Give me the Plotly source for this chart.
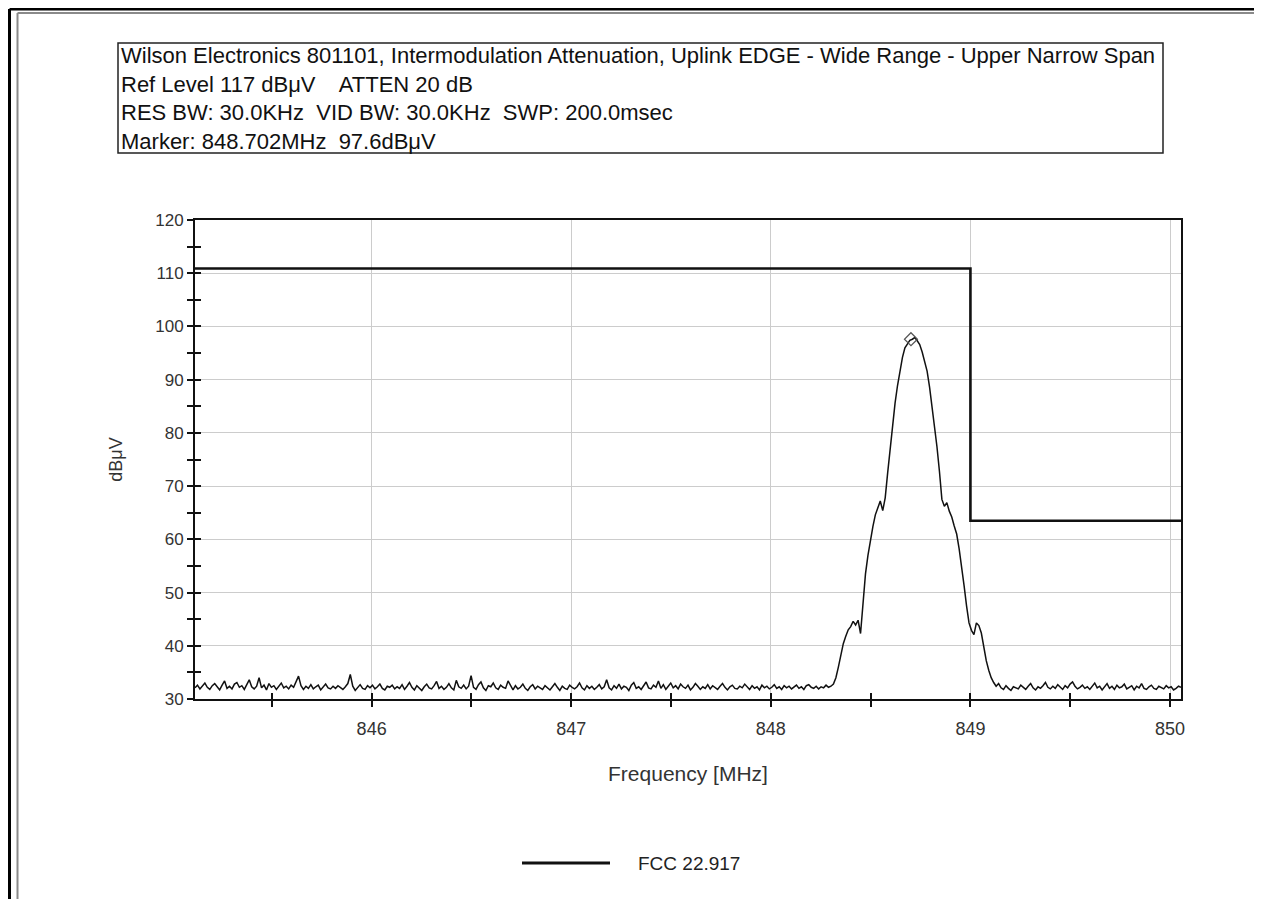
import numpy as np
import plotly.graph_objects as go

# ---------------- data ----------------
freq_start = 845.115   # MHz, left edge of sweep
freq_stop = 850.055    # MHz, right edge of sweep

noise_low = [
    32.1, 32.6, 31.9, 32.4, 33.0, 32.2, 31.8, 32.5, 32.9, 32.3, 31.7, 32.6, 33.4, 32.0, 32.4, 31.9, 32.8, 33.1, 32.2, 32.5,
    31.8, 32.7, 33.6, 32.3, 31.9, 32.4, 34.0, 32.1, 32.6, 31.7, 32.9, 32.2, 32.5, 31.8, 32.3, 33.0, 32.1, 32.4, 31.9, 32.6,
    32.2, 33.2, 34.3, 32.5, 31.8, 32.4, 32.0, 32.7, 31.9, 32.3, 32.6, 31.7, 32.2, 32.8, 32.1, 31.9, 32.4, 32.0, 32.5, 32.2,
    31.8, 32.3, 32.9, 34.6, 32.4, 31.6, 32.2, 32.7, 32.0, 31.8, 32.5, 32.1, 32.6, 31.9, 32.3, 32.8, 32.0, 31.7, 32.4, 32.2,
    32.6, 31.9, 32.3, 32.0, 32.7, 31.8, 32.4, 33.1, 32.2, 31.7, 32.5, 32.0, 31.6, 32.3, 32.8, 32.1, 31.9, 32.5, 33.3, 32.0,
    32.4, 31.8, 32.2, 32.9, 32.1, 31.7, 33.5, 32.3, 32.0, 32.6, 31.9, 32.4, 34.4, 32.2, 31.8, 32.7, 33.2, 32.1, 31.6, 32.5,
    32.3, 33.0, 32.1, 31.8, 32.6, 32.2, 32.0, 33.4, 32.4, 31.7, 32.5, 31.9, 32.2, 32.8, 32.0, 31.6, 32.3, 32.7, 31.9, 32.4,
    32.1, 31.8, 32.5, 32.0, 31.7, 32.3, 32.9, 32.2, 31.6, 32.4, 32.0, 31.8, 32.6, 32.2, 31.9, 32.3, 33.0, 32.1, 31.7, 32.5,
    32.0, 32.4, 31.8, 32.2, 32.7, 31.9, 32.3, 33.6, 32.1, 31.7, 32.5, 32.0, 32.8, 31.9, 32.4, 32.2, 31.6, 32.6, 33.1, 32.0,
    32.3, 31.8, 32.5, 33.2, 32.1, 31.9, 32.6, 32.2, 33.4, 32.0, 32.7, 31.8, 32.4, 33.0, 32.1, 32.5, 31.9, 32.8, 32.3, 32.0,
    32.6, 31.7, 32.2, 32.9, 32.4, 31.8, 32.3, 32.0, 32.7, 31.9, 32.5, 32.1, 31.8, 32.4, 32.9, 32.2, 31.7, 32.3, 32.6, 32.0,
    31.9, 32.4, 32.1, 32.8, 32.2, 31.8, 32.5, 32.0, 32.3, 31.7, 32.6, 32.1, 32.4, 31.9, 32.2, 32.7, 32.0, 32.3, 31.8, 32.5,
    32.1, 32.4, 31.9, 32.2, 32.6, 32.0, 32.3, 31.8, 32.5, 32.7, 32.2, 32.0, 32.4, 31.9, 32.3, 32.1, 32.6, 32.2, 32.4, 32.8,
]

signal_levels = [
    34.0, 36.0, 38.2, 40.4, 41.8, 43.0, 43.6, 44.6, 43.9, 44.8,
    42.3, 48.5, 53.5, 57.0, 60.1, 62.4, 64.6, 66.0, 67.2, 65.4,
    67.8, 72.5, 77.0, 81.8, 85.6, 88.9, 91.8, 94.2, 96.0, 96.8,
    97.4, 97.6, 97.9, 97.3, 96.6, 95.2, 93.4, 91.6, 88.6, 85.1,
    81.2, 77.4, 72.8, 67.5, 66.2, 66.9, 65.3, 64.2, 62.5, 61.0,
    58.2, 55.0, 51.3, 47.5, 44.3, 42.9, 42.1, 44.3, 43.8, 42.4,
    39.6, 37.2, 35.4, 34.0, 33.1, 32.4, 32.9, 32.1,
]

noise_high = [
    31.8, 32.5, 32.0, 31.6, 32.3, 32.1, 31.9, 32.6, 32.2, 31.8, 32.4, 32.9, 32.1, 31.7, 32.3, 32.0, 32.5, 33.1, 32.2, 31.9,
    32.4, 32.0, 32.7, 32.3, 31.8, 32.5, 32.1, 32.8, 33.2, 32.4, 31.9, 32.2, 32.6, 32.0, 32.3, 31.8, 32.5, 33.0, 32.1, 32.4,
    31.7, 32.3, 32.9, 32.0, 32.4, 31.8, 32.6, 32.1, 32.3, 32.8, 31.9, 32.2, 32.5, 31.7, 32.4, 32.1, 32.9, 32.0, 31.8, 32.3,
    32.6, 32.0, 31.8, 32.4, 32.2, 31.9, 32.5, 32.1, 32.3, 31.7, 32.0, 32.4, 32.2,
]

limit_freqs = [845.115, 849.0, 849.0, 850.055]
limit_levels = [110.9, 110.9, 63.5, 63.5]

marker_freq = [848.702]
marker_level = [97.6]

x_ticks = [846, 847, 848, 849, 850]
y_ticks = [30, 40, 50, 60, 70, 80, 90, 100, 110, 120]

header_lines = [
    "Wilson Electronics 801101, Intermodulation Attenuation, Uplink EDGE - Wide Range - Upper Narrow Span",
    "Ref Level 117 dB\u03bcV    ATTEN 20 dB",
    "RES BW: 30.0KHz  VID BW: 30.0KHz  SWP: 200.0msec",
    "Marker: 848.702MHz  97.6dB\u03bcV",
]
legend_name = "FCC 22.917"

# ---------------- figure ----------------
levels = noise_low + signal_levels + noise_high
freqs = np.linspace(freq_start, freq_stop, len(levels))

OFF = 8                      # page body margin of the html page
W, H = 1262 - OFF, 899 - OFF
ML, MR, MT, MB = 195 - OFF, 81, 220 - OFF, 200
PW, PH = W - ML - MR, H - MT - MB


def px(x):
    """screen x (px) -> paper x"""
    return (x - OFF - ML) / PW


def py(y):
    """screen y (px) -> paper y"""
    return (H - MB - (y - OFF)) / PH


FONT = "Liberation Sans, Arial, sans-serif"

fig = go.Figure()
fig.add_trace(go.Scatter(x=freqs, y=levels, mode="lines",
                         line=dict(color="#111111", width=1.5),
                         showlegend=False, hoverinfo="x+y"))
fig.add_trace(go.Scatter(x=limit_freqs, y=limit_levels, mode="lines",
                         line=dict(color="#111111", width=2.6),
                         name=legend_name, showlegend=False))
fig.add_trace(go.Scatter(x=marker_freq, y=marker_level, mode="markers",
                         marker=dict(symbol="diamond-open", size=10,
                                     color="#555555", line=dict(width=1.2)),
                         showlegend=False))
# invisible trace to carry overlay axes (inner half of crossing ticks)
fig.add_trace(go.Scatter(x=[freq_start], y=[y_ticks[0]], xaxis="x2", yaxis="y2",
                         mode="markers", marker=dict(opacity=0),
                         showlegend=False, hoverinfo="skip"))

xtickfont = dict(family=FONT, size=18, color="#333333")
ytickfont = dict(family=FONT, size=17, color="#333333")
titlefont = dict(family=FONT, size=21, color="#333333")

fig.update_layout(
    width=W, height=H,
    margin=dict(l=ML, r=MR, t=MT, b=MB, autoexpand=False),
    paper_bgcolor="white", plot_bgcolor="white",
    font=dict(family=FONT, color="#222222"),
    showlegend=False,
    xaxis=dict(range=[freq_start, freq_stop], tickvals=x_ticks,
               ticktext=[str(v) for v in x_ticks],
               ticks="outside", ticklen=6, tickwidth=1.5, tickcolor="#111111",
               minor=dict(tick0=845.5, dtick=1, ticks="outside", ticklen=6,
                          tickwidth=1.5, tickcolor="#111111", showgrid=False),
               showgrid=True, gridcolor="#cccccc", gridwidth=1,
               showline=True, linecolor="#111111", linewidth=2, mirror=True,
               zeroline=False, tickfont=xtickfont, ticklabelstandoff=6,
               title=dict(text="Frequency [MHz]", font=titlefont, standoff=29)),
    yaxis=dict(range=[30, 120], tickvals=y_ticks,
               ticks="outside", ticklen=6, tickwidth=1.5, tickcolor="#111111",
               minor=dict(tick0=35, dtick=10, ticks="outside", ticklen=6,
                          tickwidth=1.5, tickcolor="#111111", showgrid=False),
               showgrid=True, gridcolor="#cccccc", gridwidth=1,
               showline=True, linecolor="#111111", linewidth=2, mirror=True,
               zeroline=False, tickfont=ytickfont,
               title=dict(text="dB\u03bcV", font=dict(family=FONT, size=18, color="#333333"),
                          standoff=28)),
    xaxis2=dict(overlaying="x", anchor="y", matches="x", range=[freq_start, freq_stop],
                tickvals=x_ticks, showticklabels=False,
                ticks="inside", ticklen=6, tickwidth=1.5, tickcolor="#111111",
                minor=dict(tick0=845.5, dtick=1, ticks="inside", ticklen=6,
                           tickwidth=1.5, tickcolor="#111111", showgrid=False),
                showgrid=False, showline=False, zeroline=False),
    yaxis2=dict(overlaying="y", anchor="x", matches="y", range=[30, 120], side="left",
                tickvals=y_ticks, showticklabels=False,
                ticks="inside", ticklen=6, tickwidth=1.5, tickcolor="#111111",
                minor=dict(tick0=35, dtick=10, ticks="inside", ticklen=6,
                           tickwidth=1.5, tickcolor="#111111", showgrid=False),
                showgrid=False, showline=False, zeroline=False),
)

shapes = []
# outer screenshot frame (black + gray inner line)
shapes.append(dict(type="line", xref="paper", yref="paper", x0=px(9.5), x1=px(1270), y0=py(9), y1=py(9),
                   line=dict(color="black", width=3)))
shapes.append(dict(type="line", xref="paper", yref="paper", x0=px(9.5), x1=px(9.5), y0=py(9), y1=py(905),
                   line=dict(color="black", width=3)))
shapes.append(dict(type="line", xref="paper", yref="paper", x0=px(17.5), x1=px(1270), y0=py(13), y1=py(13),
                   line=dict(color="#8a8a8a", width=2)))
shapes.append(dict(type="line", xref="paper", yref="paper", x0=px(17.5), x1=px(17.5), y0=py(13), y1=py(905),
                   line=dict(color="#8a8a8a", width=2)))
# header box
shapes.append(dict(type="rect", xref="paper", yref="paper", x0=px(118), x1=px(1163), y0=py(153), y1=py(43),
                   line=dict(color="#222222", width=1.5), fillcolor="rgba(0,0,0,0)"))
# legend sample line
shapes.append(dict(type="line", xref="paper", yref="paper", x0=px(522), x1=px(610), y0=py(863), y1=py(863),
                   line=dict(color="#111111", width=3)))
fig.update_layout(shapes=shapes)

fig.add_annotation(xref="paper", yref="paper", x=px(119), y=py(98), xanchor="left", yanchor="middle",
                   text="<br>".join(header_lines), align="left", showarrow=False,
                   font=dict(family=FONT, size=22, color="#111111"))
fig.add_annotation(xref="paper", yref="paper", x=px(636), y=py(863), xanchor="left", yanchor="middle",
                   text=legend_name, showarrow=False,
                   font=dict(family=FONT, size=19, color="#222222"))

fig.write_html("out.html")
